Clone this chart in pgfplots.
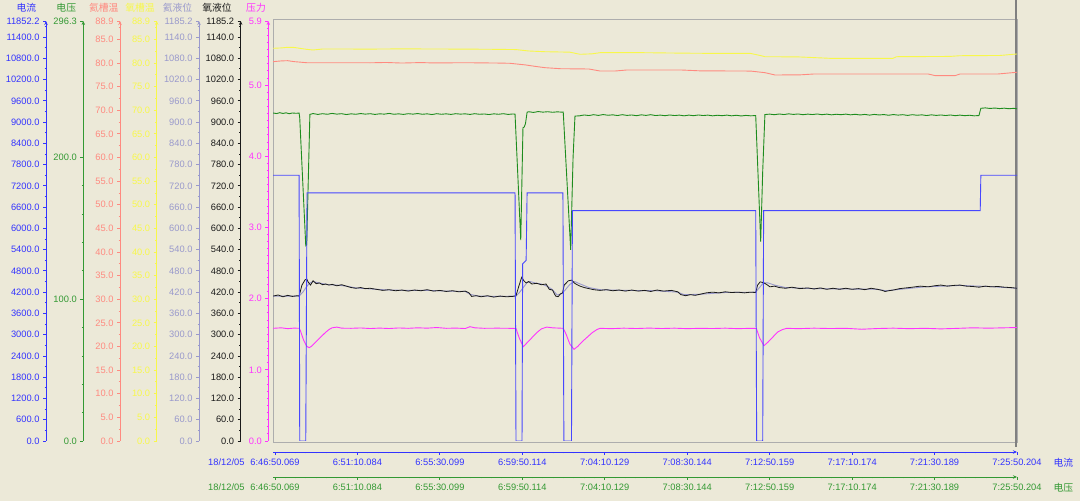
\documentclass[border=0pt]{standalone}
\usepackage{fontspec}
\setmainfont{Liberation Sans}
\newfontfamily\cjk{Noto Sans CJK SC}
\usepackage{pgfplots}
\pgfplotsset{compat=1.18}
\usetikzlibrary{arrows.meta}

\definecolor{bg}{HTML}{ECE9D8}
\definecolor{cI}{HTML}{3333FF}   % 电流
\definecolor{cU}{HTML}{339933}   % 电压
\definecolor{cT1}{HTML}{FF8A80}  % 氦槽温
\definecolor{cT2}{HTML}{F8F84A}  % 氧槽温
\definecolor{cL1}{HTML}{9999CC}  % 氦液位
\definecolor{cL2}{HTML}{1A1A1A}  % 氧液位
\definecolor{cP}{HTML}{FF33FF}   % 压力
\definecolor{lineI}{HTML}{4747FF}
\definecolor{lineU}{HTML}{1E8C1E}

\newcommand\tf{\fontsize{9.3}{10}\selectfont}
\newcommand\hf{\cjk\fontsize{9.8}{10}\selectfont}

\pgfplotsset{
  /pgf/number format/.cd, fixed, fixed zerofill, precision=1, 1000 sep={},
  assume math mode=true,
  /pgfplots/.cd,
  scaled ticks=false,
  % left value scales: x position (px), colour, ymax, title offset
  yonly/.style n args={4}{
    at={(#1pt,60pt)}, anchor=south west, scale only axis,
    width=1pt, height=420pt, xmin=0, xmax=1, ymin=0, ymax=#3,
    axis x line=none, axis y line*=left,
    y axis line style={draw=#2, line width=0.9pt, -{Stealth[length=4pt,width=3.5pt]}},
    tick align=outside, major tick length=3pt, minor tick length=1.5pt,
    tick style={draw=#2, line width=0.9pt},
    minor y tick num=1,
    yticklabel style={font=\tf, text=#2},
    extra y ticks={#3},
    every axis title/.style={at={(axis description cs:0,1)}, anchor=center,
      xshift=#4pt, yshift=13pt, font=\hf, text=#2},
  },
  % plotting area shared by all series
  dat/.style={
    at={(273pt,60pt)}, anchor=south west, scale only axis,
    width=744pt, height=420pt, xmin=-6.3, xmax=2340, ymin=0, ymax=#1,
    hide axis, clip=true,
  },
  % time scales below: y position, colour, name
  xonly/.style n args={3}{
    at={(273pt,#1pt)}, anchor=south west, scale only axis,
    width=744pt, height=1pt, xmin=-6.3, xmax=2340, ymin=0, ymax=1,
    axis y line=none, axis x line*=bottom,
    x axis line style={draw=#2, line width=0.9pt, -{Stealth[length=4pt,width=3.5pt]}},
    tick align=outside, major tick length=3pt, minor tick length=1.5pt,
    tick style={draw=#2, line width=0.9pt},
    minor x tick num=7,
    xtick={0,260,520,780,1040,1300,1560,1820,2080,2340},
    xticklabels={\llap{18/12/05\hspace{6pt}}6:46:50.069, 6:51:10.084,
      6:55:30.099, 6:59:50.114, 7:04:10.129, 7:08:30.144, 7:12:50.159,
      7:17:10.174, 7:21:30.189, 7:25:50.204},
    xticklabel style={font=\tf, text=#2},
    xlabel={#3},
    xlabel style={at={(axis description cs:1,0)}, anchor=west,
      xshift=33pt, yshift=-11pt, font=\hf, text=#2},
  },
}

\begin{document}
\begin{tikzpicture}
\useasboundingbox (0,0) rectangle (1080pt,501pt);
\fill[bg] (0,0) rectangle (1080pt,501pt);

% frame of the plotting area
\begin{axis}[at={(273pt,59pt)}, anchor=south west, scale only axis,
  width=744pt, height=423pt, xmin=0, xmax=1, ymin=0, ymax=1,
  xtick=\empty, ytick=\empty, axis line style={draw=black!32, line width=0.8pt}]
\end{axis}
\draw[black!50, line width=2pt] (1016pt,54pt) -- (1016pt,501pt);

% value scales
\begin{axis}[yonly={46}{cI}{11852.2}{-19.5}, ytick distance=600, title={电流}]
\end{axis}
\begin{axis}[yonly={83.3}{cU}{296.3}{-17}, ytick={0,100,200}, minor y tick num=4, title={电压}]
\end{axis}
\begin{axis}[yonly={120}{cT1}{88.9}{-16.3}, ytick distance=5, title={氦槽温}]
\end{axis}
\begin{axis}[yonly={156.7}{cT2}{88.9}{-16.7}, ytick distance=5, title={氧槽温}]
\end{axis}
\begin{axis}[yonly={199}{cL1}{1185.2}{-21.5}, ytick distance=60, title={氦液位}]
\end{axis}
\begin{axis}[yonly={240.7}{cL2}{1185.2}{-23.7}, ytick distance=60, title={氧液位}]
\end{axis}
\begin{axis}[yonly={268.3}{cP}{5.9}{-12.3}, ytick distance=1, minor y tick num=9, title={压力}]
\end{axis}

% time scales
\begin{axis}[xonly={49}{cI}{电流}]
\end{axis}
\begin{axis}[xonly={24}{cU}{电压}]
\end{axis}

% 氧槽温
\begin{axis}[dat=88.9]
\addplot[color=cT2, line width=0.9pt] coordinates {
(-6,83.12)(20,83.2)(40,83.33)(60,83.3)(100,82.9)(120,82.76)(150,82.97)(200,82.97)
(300,82.95)(400,83.0)(500,82.97)(600,82.95)(700,82.9)(760,82.85)(800,82.55)
(850,82.40)(930,82.3)(962,81.85)(1000,81.95)(1025,82.19)(1150,82.2)(1277,82.1)
(1350,82.06)(1500,82.03)(1530,81.6)(1545,81.34)(1650,81.3)(1750,81.0)(1949,81.0)
(1960,81.34)(2128,81.4)(2160,81.55)(2286,81.6)(2340,81.92)};
\end{axis}

% 氦槽温
\begin{axis}[dat=88.9]
\addplot[color=cT1, line width=0.9pt] coordinates {
(-6,80.29)(20,80.45)(40,80.5)(60,80.3)(100,80.07)(200,80.07)(300,80.05)(350,80.12)
(400,80.0)(460,80.1)(500,80.02)(600,80.07)(700,80.0)(740,79.95)(790,79.6)(820,79.3)
(851,79.02)(900,78.8)(990,78.74)(1025,78.31)(1072,78.31)(1110,78.53)(1280,78.53)
(1340,78.35)(1500,78.3)(1545,77.96)(1577,77.47)(1656,77.5)(1700,77.68)(2060,77.68)
(2081,77.35)(2144,77.32)(2160,77.68)(2280,77.68)(2340,78.05)};
\end{axis}

% 氦液位
\begin{axis}[dat=1185.2]
\addplot[color=cL1, line width=0.9pt] coordinates {
(-6,409)(76,409)(88,420)(100,436)(110,446)(120,450)(135,447)(150,444)(170,441)
(195,440)(225,437)(255,432)(285,430)(320,428)(360,426)(420,425)(480,425)(540,423)
(600,422)(615,414)(640,409)(700,408)(760,409)(770,418)(782,432)(795,447)(805,450)
(820,446)(840,443)(860,436)(875,427)(890,412)(905,416)(915,426)(930,442)(945,450)
(960,444)(990,433)(1025,427)(1100,425)(1200,424)(1270,420)(1290,413)(1340,414)
(1420,419)(1516,420)(1525,430)(1540,446)(1555,446)(1575,440)(1610,433)(1700,430)
(1800,429)(1900,428)(1925,424)(1960,427)(2050,435)(2160,439)(2250,436)(2340,431)};
\end{axis}

% 氧液位
\begin{axis}[dat=1185.2]
\addplot[color=cL2, line width=0.8pt] coordinates {
(-6,409)(10,412)(25,407)(40,411)(55,408)(70,410)(76,409)(85,440)(95,455)(100,457)
(105,448)(112,440)(120,452)(130,444)(140,446)(150,441)(160,443)(170,440)(180,442)
(195,438)(210,441)(225,437)(240,433)(255,431)(270,433)(285,430)(300,431)(320,428)
(340,425)(360,427)(380,424)(400,426)(420,423)(440,426)(460,424)(480,427)(500,423)
(520,425)(540,422)(560,424)(580,421)(600,423)(612,418)(620,408)(635,410)(650,407)
(670,410)(690,406)(710,409)(730,407)(750,408)(760,410)(770,440)(778,462)(785,452)
(792,446)(800,450)(810,443)(825,445)(840,441)(855,443)(865,428)(875,426)(885,409)
(893,407)(900,415)(907,418)(912,440)(925,452)(936,454)(945,445)(955,440)(962,437)
(975,433)(990,430)(1005,427)(1025,425)(1045,427)(1065,424)(1085,426)(1105,423)
(1125,426)(1145,423)(1165,425)(1185,422)(1205,426)(1225,423)(1250,425)(1270,421)
(1280,413)(1295,410)(1310,413)(1325,411)(1340,414)(1360,418)(1380,420)(1400,418)
(1420,421)(1440,419)(1460,420)(1480,418)(1500,420)(1516,419)(1522,440)(1530,449)
(1540,447)(1550,442)(1561,435)(1575,437)(1590,433)(1610,431)(1630,434)(1655,430)
(1680,432)(1700,429)(1720,432)(1740,428)(1760,431)(1780,428)(1800,431)(1820,428)
(1840,430)(1860,427)(1880,431)(1900,428)(1915,425)(1924,422)(1935,424)(1950,426)
(1970,430)(1990,432)(2010,434)(2035,437)(2060,435)(2080,438)(2100,440)(2120,437)
(2140,439)(2160,440)(2180,437)(2200,436)(2220,434)(2240,437)(2260,435)(2280,436)
(2300,434)(2320,433)(2340,431)};
\end{axis}

% 压力
\begin{axis}[dat=5.9]
\addplot[color=cP, line width=0.9pt] coordinates {
(-6,1.583)(20,1.590)(40,1.578)(60,1.586)(76,1.583)(80,1.55)(90,1.42)(100,1.33)
(108,1.311)(115,1.33)(126,1.38)(142,1.45)(158,1.52)(170,1.565)(180,1.590)(195,1.600)
(210,1.585)(240,1.583)(270,1.588)(300,1.580)(330,1.586)(360,1.580)(390,1.588)
(420,1.583)(450,1.590)(480,1.585)(510,1.594)(540,1.583)(570,1.586)(600,1.580)
(615,1.606)(630,1.590)(660,1.583)(700,1.585)(740,1.583)(760,1.580)(770,1.45)
(783,1.325)(795,1.38)(810,1.45)(825,1.52)(840,1.575)(857,1.600)(875,1.590)
(909,1.583)(918,1.50)(930,1.36)(943,1.288)(955,1.33)(970,1.40)(985,1.46)(1000,1.52)
(1015,1.565)(1025,1.583)(1060,1.578)(1100,1.585)(1140,1.580)(1180,1.586)(1220,1.580)
(1260,1.585)(1300,1.578)(1340,1.583)(1380,1.580)(1420,1.585)(1460,1.578)(1500,1.583)
(1518,1.583)(1528,1.45)(1542,1.339)(1555,1.39)(1570,1.46)(1585,1.53)(1600,1.565)
(1614,1.583)(1650,1.578)(1700,1.585)(1750,1.580)(1800,1.583)(1850,1.570)(1900,1.580)
(1950,1.585)(2000,1.578)(2050,1.583)(2100,1.575)(2150,1.582)(2200,1.590)(2250,1.585)
(2300,1.590)(2340,1.594)};
\end{axis}

% 电压
\begin{axis}[dat=296.3]
\addplot[color=lineU, line width=0.9pt] coordinates {
(-6,231.4)(5,231.0)(15,231.6)(25,231.1)(35,231.5)(45,230.9)(55,231.4)(65,231.2)
(76,231.3)(78,228)(97,137.8)(100,138.5)(110,230.4)
(120,231.0)(135,230.4)(150,230.9)(165,230.5)(180,231.1)(195,230.6)(210,230.9)
(225,230.3)(240,230.8)(255,230.5)(270,231.0)(285,230.6)(300,230.9)(315,230.4)
(330,230.8)(345,230.6)(360,231.1)(375,230.5)(390,230.8)(405,230.4)(420,230.9)
(435,230.6)(450,231.0)(465,230.5)(480,230.8)(495,230.3)(510,230.9)(525,230.5)
(540,230.8)(555,230.4)(570,230.9)(585,230.6)(600,230.8)(615,230.4)(630,230.9)
(645,230.5)(660,230.7)(675,230.3)(690,230.8)(705,230.5)(720,230.9)(735,230.4)
(750,230.7)(757,230.6)(775,141.8)(782,221)(786,221.5)(790,224)(795,231.9)(800,232.3)
(815,231.8)(830,232.4)(845,232.0)(860,232.3)(875,231.9)(890,232.2)(905,232.0)
(909,232.1)(932.5,134.8)(940,200)(946,229.2)
(960,229.4)(975,230.0)(990,229.6)(1005,230.2)(1020,229.7)(1035,230.3)(1050,229.8)
(1065,230.1)(1080,229.6)(1095,230.2)(1110,229.7)(1125,230.0)(1140,229.5)(1155,230.1)
(1170,229.7)(1185,230.2)(1200,229.6)(1215,229.9)(1230,229.5)(1245,230.0)(1260,229.6)
(1275,229.9)(1290,229.4)(1305,229.9)(1320,229.5)(1335,230.0)(1350,229.6)(1365,229.9)
(1380,229.4)(1395,229.8)(1410,229.5)(1425,229.9)(1440,229.4)(1455,229.8)(1470,229.3)
(1485,229.7)(1500,229.4)(1516,229.6)(1531.7,140.6)(1538,190)(1545,230.3)
(1560,230.6)(1575,230.2)(1590,230.7)(1605,230.3)(1620,230.8)(1635,230.4)(1650,230.7)
(1665,230.2)(1680,230.6)(1695,230.3)(1710,230.7)(1725,230.2)(1740,230.6)(1755,230.1)
(1770,230.5)(1785,230.2)(1800,230.6)(1815,230.1)(1830,230.5)(1845,230.0)(1860,230.4)
(1875,229.9)(1890,230.4)(1905,230.0)(1920,230.3)(1935,229.8)(1950,230.3)(1965,229.9)
(1980,230.2)(1995,229.7)(2010,230.2)(2025,229.8)(2040,230.1)(2055,229.6)(2070,230.1)
(2085,229.7)(2100,230.0)(2115,229.6)(2130,230.0)(2145,229.5)(2160,229.9)(2175,229.5)
(2190,229.8)(2205,229.4)(2220,229.6)(2226,234.7)(2240,235.0)(2255,234.6)(2270,234.9)
(2285,234.5)(2300,234.8)(2315,234.4)(2330,234.7)(2340,234.3)};
\end{axis}

% 电流
\begin{axis}[dat=11852.2]
\addplot[color=lineI, line width=0.9pt] coordinates {
(-6.3,7500)(76,7500)(78,0)(97,0)(101,7000)(757,7000)(760,0)(779,0)(781,5000)
(792,5100)(795,7000)(908,7000)(911,0)(935,0)(938,6500)(1516,6500)(1519,0)(1538,0)
(1541,6500)(2224,6500)(2226,7500)(2340,7500)};
\end{axis}
\end{tikzpicture}
\end{document}
